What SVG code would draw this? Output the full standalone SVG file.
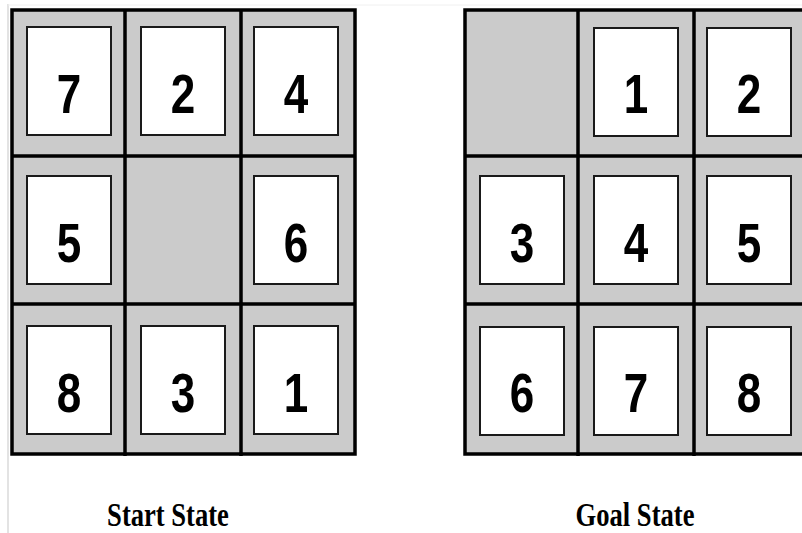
<svg xmlns="http://www.w3.org/2000/svg" width="802" height="533" viewBox="0 0 802 533">
<style>
.cell{fill:#cbcbcb;stroke:none}
.grid{stroke:#000;stroke-width:3.5;fill:none}
.tile{fill:#fff;stroke:#1a1a1a;stroke-width:2}
.num{font-family:"Liberation Sans",Arial,sans-serif;font-weight:bold;font-size:44px;fill:#000;text-anchor:middle}
.lbl{font-family:"Liberation Serif","Times New Roman",serif;font-weight:bold;font-size:26.6px;fill:#000;text-anchor:middle}
</style>
<rect width="802" height="533" fill="#fff"/>
<line x1="8" y1="4" x2="8" y2="533" stroke="#d0d0d0" stroke-width="1.2"/>
<line x1="8" y1="5" x2="802" y2="5" stroke="#f0f0f0" stroke-width="1"/>
<g id="boards">
<rect class="cell" x="12" y="10" width="343" height="444"/>
<rect class="cell" x="465" y="10" width="337" height="444"/>
</g>
<g id="start-tiles">
<g id="s7"><rect class="tile" x="27" y="27" width="84" height="108"/><text class="num" transform="translate(69,113) scale(1,1.25)">7</text></g>
<g id="s2"><rect class="tile" x="141" y="27" width="84" height="108"/><text class="num" transform="translate(183,113) scale(1,1.25)">2</text></g>
<g id="s4"><rect class="tile" x="254" y="27" width="84" height="108"/><text class="num" transform="translate(296,113) scale(1,1.25)">4</text></g>
<g id="s5"><rect class="tile" x="27" y="176" width="84" height="108"/><text class="num" transform="translate(69,262) scale(1,1.25)">5</text></g>
<g id="s6"><rect class="tile" x="254" y="176" width="84" height="108"/><text class="num" transform="translate(296,262) scale(1,1.25)">6</text></g>
<g id="s8"><rect class="tile" x="27" y="326" width="84" height="108"/><text class="num" transform="translate(69,412) scale(1,1.25)">8</text></g>
<g id="s3"><rect class="tile" x="141" y="326" width="84" height="108"/><text class="num" transform="translate(183,412) scale(1,1.25)">3</text></g>
<g id="s1"><rect class="tile" x="254" y="326" width="84" height="108"/><text class="num" transform="translate(296,412) scale(1,1.25)">1</text></g>
</g>
<g id="goal-tiles">
<g id="g1"><rect class="tile" x="594" y="28" width="84" height="108"/><text class="num" transform="translate(636,113) scale(1,1.25)">1</text></g>
<g id="g2"><rect class="tile" x="707" y="28" width="84" height="108"/><text class="num" transform="translate(749,113) scale(1,1.25)">2</text></g>
<g id="g3"><rect class="tile" x="480" y="176" width="84" height="108"/><text class="num" transform="translate(522,262) scale(1,1.25)">3</text></g>
<g id="g4"><rect class="tile" x="594" y="176" width="84" height="108"/><text class="num" transform="translate(636,262) scale(1,1.25)">4</text></g>
<g id="g5"><rect class="tile" x="707" y="176" width="84" height="108"/><text class="num" transform="translate(749,262) scale(1,1.25)">5</text></g>
<g id="g6"><rect class="tile" x="480" y="327" width="84" height="108"/><text class="num" transform="translate(522,412) scale(1,1.25)">6</text></g>
<g id="g7"><rect class="tile" x="594" y="327" width="84" height="108"/><text class="num" transform="translate(636,412) scale(1,1.25)">7</text></g>
<g id="g8"><rect class="tile" x="707" y="327" width="84" height="108"/><text class="num" transform="translate(749,412) scale(1,1.25)">8</text></g>
</g>
<g id="grid-lines">
<rect class="grid" x="12" y="10" width="343" height="444"/>
<line class="grid" x1="125" y1="10" x2="125" y2="456"/>
<line class="grid" x1="241" y1="10" x2="241" y2="456"/>
<line class="grid" x1="12" y1="156" x2="355" y2="156"/>
<line class="grid" x1="12" y1="304" x2="355" y2="304"/>
<path class="grid" d="M802 10 H465 V454 H802"/>
<line class="grid" x1="578" y1="10" x2="578" y2="456"/>
<line class="grid" x1="694" y1="10" x2="694" y2="456"/>
<line class="grid" x1="465" y1="156" x2="802" y2="156"/>
<line class="grid" x1="465" y1="304" x2="802" y2="304"/>
</g>
<g id="labels">
<text class="lbl" transform="translate(168,526) scale(1,1.25)">Start State</text>
<text class="lbl" transform="translate(635,526) scale(1,1.25)">Goal State</text>
</g>
</svg>
